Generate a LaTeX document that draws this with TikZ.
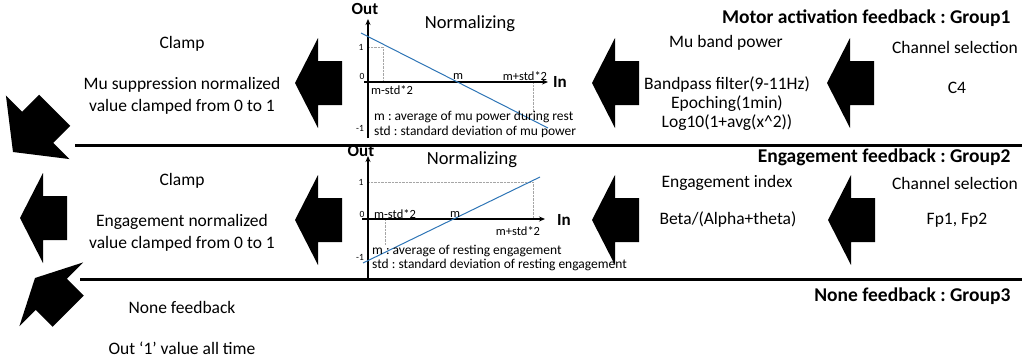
\documentclass[tikz,border=0pt]{standalone}
\usepackage{fontspec}
\setmainfont{Carlito}
\usetikzlibrary{arrows.meta}
\frenchspacing

\definecolor{fitblue}{RGB}{46,117,182}

\tikzset{
  pics/flowarrow/.style={code={%
    \fill[black] (0,0) -- (#1,45) -- (#1,22) -- (#1+24,22) -- (#1+24,-22) -- (#1,-22) -- (#1,-45) -- cycle;}},
  pics/flowarrow/.default=23,
  steptext/.style={font=\fontsize{17.5}{22}\selectfont, align=center},
  grouptitle/.style={font=\fontsize{19.5}{22}\selectfont\bfseries, anchor=east},
  axislabel/.style={font=\fontsize{17}{18}\selectfont\bfseries},
  axis/.style={line width=1.4pt, -{Stealth[length=6pt,width=5pt]}},
  guide/.style={gray!70, densely dotted, thin},
  note/.style={font=\fontsize{13.5}{15}\selectfont, anchor=west, inner sep=1pt},
  tick/.style={font=\fontsize{9.5}{10}\selectfont, inner sep=1pt},
  axismark/.style={font=\fontsize{12.5}{14}\selectfont, inner sep=1pt},
  fitline/.style={fitblue, line width=1pt},
  divider/.style={line width=3pt},
}

\begin{document}
\begin{tikzpicture}[x=1pt, y=-1pt]
\useasboundingbox (0,0) rectangle (1027,360);

% group titles and dividers
\node[grouptitle] (title1) at (1014,18) {Motor activation feedback : Group1};
\node[grouptitle] (title2) at (1014,157) {Engagement feedback : Group2};
\node[grouptitle] (title3) at (1014,296) {None feedback : Group3};

\coordinate (div1l) at (75,145);
\coordinate (div1r) at (1022,145);
\coordinate (div2l) at (80,279);
\coordinate (div2r) at (1022,279);
\draw[divider] (div1l) -- (div1r);
\draw[divider] (div2l) -- (div2r);

% group 1 : motor activation
\node[steptext] (chan1) at (955,47) {Channel selection};
\node[steptext] (elec1) at (957,88) {C4};
\node[steptext] (power1) at (726,43) {Mu band power};
\node[steptext, font=\fontsize{17.5}{19}\selectfont] (filter1) at (727,104) {Bandpass filter(9-11Hz)\\Epoching(1min)\\Log10(1+avg(x\textasciicircum2))};
\node[steptext] (clamp1) at (182,44) {Clamp};
\node[steptext] (clampval1) at (182,96) {Mu suppression normalized\\value clamped from 0 to 1};

\pic at (827,83) {flowarrow};
\pic at (592,83) {flowarrow};
\pic at (295,83) {flowarrow};
\pic[rotate=45] at (13,152) {flowarrow=35};

% normalizing plot, group 1
\node[font=\fontsize{18.5}{20}\selectfont] (norm1) at (470,24) {Normalizing};
\coordinate (o1) at (368,82);
\coordinate (y1top) at (368,19);
\coordinate (y1bot) at (368,138);
\coordinate (x1beg) at (364,82);
\coordinate (x1end) at (548,82);
\draw[guide] (368,47) -- (383,47) -- (383,82);
\draw[guide] (533,82) -- (533,112);
\draw[axis] (y1bot) -- (y1top);
\draw[axis] (x1beg) -- (x1end);
\draw[fitline] (361,33) -- (548,128);
\node[axislabel] (out1) at (365,9) {Out};
\node[axislabel] (in1) at (560,82) {In};
\node[tick] (one1) at (361,47) {1};
\node[tick] (zero1) at (362,76) {0};
\node[tick] (mone1) at (360,128) {-1};
\node[axismark] (m1) at (458,76) {m};
\node[axismark] (mp1) at (525,76) {m+std*2};
\node[axismark] (mm1) at (392,90) {m-std*2};
\node[note] (avg1) at (373,117) {m : average of mu power during rest};
\node[note] (std1) at (373,132) {std : standard deviation of mu power};

% group 2 : engagement
\node[steptext] (chan2) at (955,183) {Channel selection};
\node[steptext] (elec2) at (957,220) {Fp1, Fp2};
\node[steptext] (index2) at (727,183) {Engagement index};
\node[steptext] (ratio2) at (728,220) {Beta/(Alpha+theta)};
\node[steptext] (clamp2) at (182,181) {Clamp};
\node[steptext] (clampval2) at (182,233) {Engagement normalized\\value clamped from 0 to 1};

\pic at (828,220) {flowarrow};
\pic at (592,220) {flowarrow};
\pic at (295,220) {flowarrow};
\pic at (20,218) {flowarrow};

% normalizing plot, group 2
\node[font=\fontsize{18.5}{20}\selectfont] (norm2) at (472,160) {Normalizing};
\coordinate (o2) at (368,219);
\coordinate (y2top) at (368,156);
\coordinate (y2bot) at (368,280);
\coordinate (x2beg) at (362,219);
\coordinate (x2end) at (545,219);
\draw[guide] (368,182) -- (533,182) -- (533,219);
\draw[guide] (385,219) -- (385,245);
\draw[axis] (y2bot) -- (y2top);
\draw[axis] (x2beg) -- (x2end);
\draw[fitline] (363,263) -- (540,177);
\node[axislabel] (out2) at (361,151) {Out};
\node[axislabel] (in2) at (564,220) {In};
\node[tick] (one2) at (361,182) {1};
\node[tick] (zero2) at (362,214) {0};
\node[tick] (mone2) at (360,257) {-1};
\node[axismark] (m2) at (455,214) {m};
\node[axismark] (mm2) at (395,214) {m-std*2};
\node[axismark] (mp2) at (518,231) {m+std*2};
\node[note] (avg2) at (371,251) {m : average of resting engagement};
\node[note] (std2) at (371,265) {std : standard deviation of resting engagement};

% group 3 : none
\node[steptext] (none3) at (182,307) {None feedback};
\node[steptext] (const3) at (182,348) {Out `1' value all time};

\pic[rotate=-45] at (35,278) {flowarrow};

\end{tikzpicture}
\end{document}
